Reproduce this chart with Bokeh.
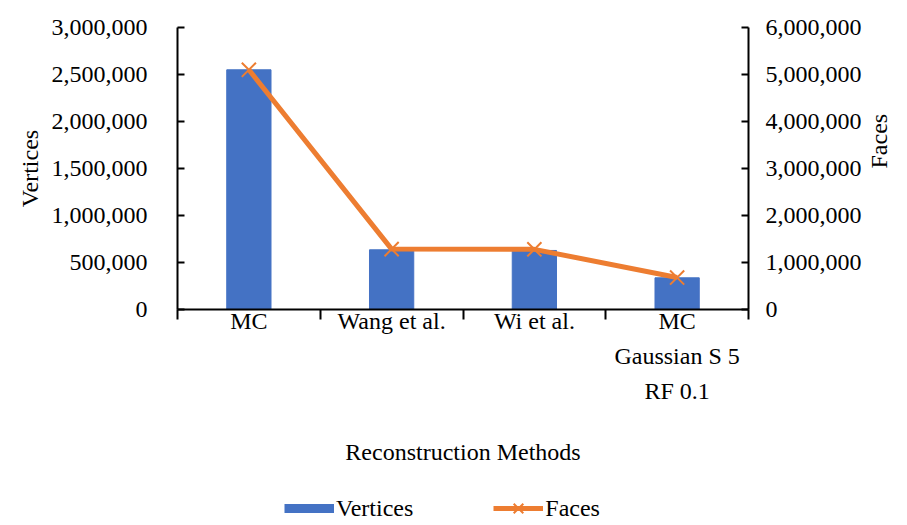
import math
import numpy as np
from bokeh.plotting import figure
from bokeh.layouts import column
from bokeh.models import (Range1d, LinearAxis, FixedTicker, NumeralTickFormatter,
                          Legend, LegendItem)
from bokeh.embed import file_html
from bokeh.resources import INLINE

# --- data -------------------------------------------------------------
categories = ["MC", "Wang et al.", "Wi et al.", "MC\nGaussian S 5\nRF 0.1"]
vertices = [2550000, 635000, 628000, 337000]
faces = [5100000, 1285000, 1280000, 680000]
vertex_ticks = [0, 500000, 1000000, 1500000, 2000000, 2500000, 3000000]
face_ticks = [0, 1000000, 2000000, 3000000, 4000000, 5000000, 6000000]

FONT = "Liberation Serif"
BLUE = "#4472C4"
ORANGE = "#ED7D31"

# category centres and the boundaries between them on a numeric x scale
n = len(categories)
centers = list(np.arange(n) + 0.5)
bounds = list(np.arange(n + 1).astype(float))

p = figure(width=907, height=475, output_backend="svg", toolbar_location=None,
           x_range=Range1d(0, n), y_range=Range1d(0, 3000000),
           min_border_left=177, min_border_right=159,
           min_border_top=27, min_border_bottom=166)
p.extra_y_ranges = {"faces": Range1d(0, 6000000)}
p.outline_line_color = None
p.xgrid.visible = False
p.ygrid.visible = False
p.background_fill_color = "white"
p.border_fill_color = "white"

p.vbar(x=centers, top=vertices, width=0.31, color=BLUE)
p.line(x=centers, y=faces, y_range_name="faces", color=ORANGE, line_width=5)
p.scatter(x=centers, y=faces, y_range_name="faces", marker="x",
          size=20, line_color=ORANGE, line_width=2)


def style_axis(ax):
    ax.axis_line_color = "black"
    ax.axis_line_width = 2
    ax.major_tick_line_color = "black"
    ax.major_tick_line_width = 2
    ax.minor_tick_line_color = None
    ax.major_label_text_font = FONT
    ax.major_label_text_font_size = "24px"
    ax.major_label_text_color = "black"
    ax.axis_label_text_font = FONT
    ax.axis_label_text_font_size = "24px"
    ax.axis_label_text_font_style = "normal"
    ax.axis_label_text_color = "black"


# bottom axis: labels at centres, ticks at category boundaries
xa = p.xaxis[0]
style_axis(xa)
xa.ticker = FixedTicker(ticks=centers, minor_ticks=bounds)
xa.major_label_overrides = {c: lab for c, lab in zip(centers, categories)}
xa.major_tick_line_color = None
xa.major_tick_in = 0
xa.major_tick_out = 0
xa.minor_tick_line_color = "black"
xa.minor_tick_line_width = 2
xa.minor_tick_in = 0
xa.minor_tick_out = 10
xa.major_label_standoff = -12
xa.major_label_text_line_height = 1.36
xa.axis_label = "Reconstruction Methods"
xa.axis_label_standoff = 32

# left axis: vertices
ya = p.yaxis[0]
style_axis(ya)
ya.ticker = FixedTicker(ticks=vertex_ticks)
ya.formatter = NumeralTickFormatter(format="0,0")
ya.major_tick_in = 7
ya.major_tick_out = 0
ya.major_label_standoff = 30
ya.axis_label = "Vertices"
ya.axis_label_standoff = 6

# right axis: faces
ra = LinearAxis(y_range_name="faces", ticker=FixedTicker(ticks=face_ticks),
                formatter=NumeralTickFormatter(format="0,0"))
style_axis(ra)
ra.major_tick_in = 7
ra.major_tick_out = 0
ra.major_label_standoff = 17
ra.axis_label = "Faces"
ra.axis_label_standoff = 14
if "axis_label_orientation" in ra.properties():
    ra.axis_label_orientation = math.pi / 2
p.add_layout(ra, "right")

# legend strip under the chart; its key glyphs fall outside this strip's
# ranges, so only the legend swatches are visible here
lf = figure(width=907, height=50, output_backend="svg", toolbar_location=None,
            x_range=Range1d(0, 0.1), y_range=Range1d(0, 1),
            x_axis_location=None, y_axis_location=None, min_border=0)
lf.outline_line_color = None
for g in lf.grid:
    g.visible = False
key_bar = lf.line(x=centers, y=vertices, line_color=BLUE, line_width=9)
key_line = lf.line(x=centers, y=faces, line_color=ORANGE, line_width=5)
key_mark = lf.scatter(x=centers, y=faces, marker="x", line_color=ORANGE,
                      line_width=2)

legend = Legend(items=[LegendItem(label="Vertices", renderers=[key_bar]),
                       LegendItem(label="Faces", renderers=[key_line, key_mark])],
                orientation="horizontal", location=(107, 0),
                label_text_font=FONT, label_text_font_size="24px",
                label_text_color="black", glyph_width=50, glyph_height=34,
                label_standoff=2, spacing=80, border_line_color=None,
                background_fill_alpha=0, margin=0, padding=0)
lf.add_layout(legend)

open("out.html", "w").write(file_html(column(p, lf), INLINE))
